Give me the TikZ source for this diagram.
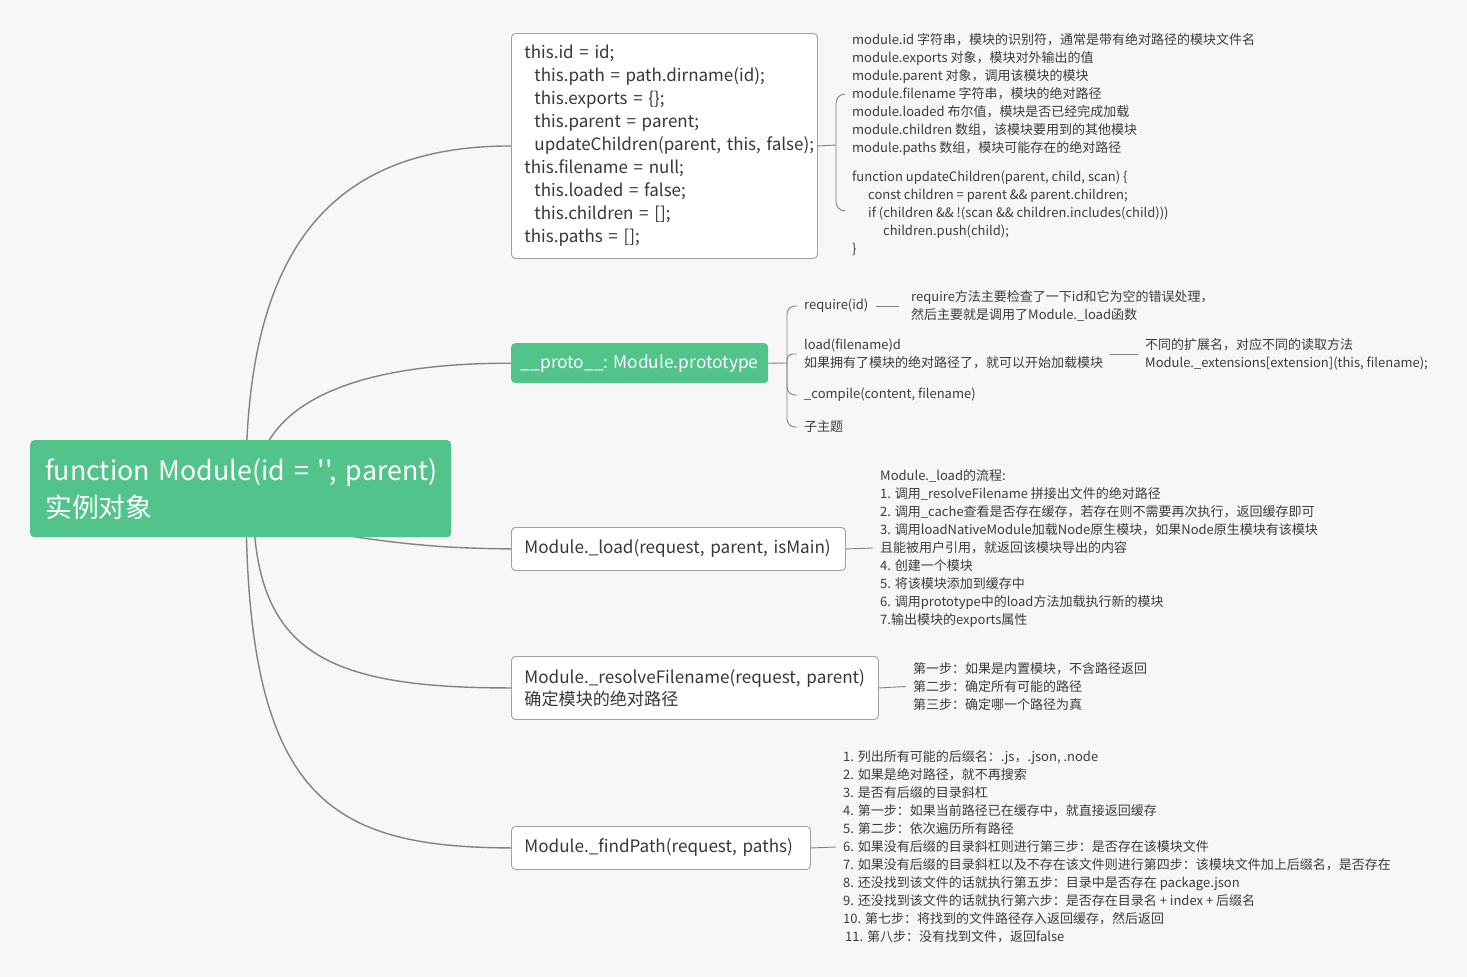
\documentclass[tikz,border=0pt]{standalone}
\usepackage{fontspec}
\setmainfont{Noto Sans CJK SC}[Ligatures=TeXOff]
\definecolor{bgc}{RGB}{247,247,247}
\definecolor{mmgreen}{RGB}{82,195,139}
\definecolor{boxline}{RGB}{160,160,160}
\definecolor{lineclr}{RGB}{130,130,130}
\definecolor{txt}{RGB}{55,55,55}
\definecolor{txtb}{RGB}{60,60,60}
\pgfdeclarelayer{bgfill}
\pgfdeclarelayer{background}
\pgfsetlayers{bgfill,background,main}
\tikzset{
  greenbox/.style={fill=mmgreen, rounded corners=4pt, text=white, anchor=north west},
  whitebox/.style={fill=white, draw=boxline, line width=0.9pt, rounded corners=4pt, text=txt,
    anchor=north west, align=left, inner xsep=13pt, inner ysep=0pt},
  detail/.style={text=txtb, font=\fontsize{13}{18}\selectfont, align=left, inner xsep=7pt,
    inner ysep=0pt, anchor=west},
  conn/.style={draw=lineclr, line width=1.4pt},
  thin/.style={draw=lineclr, line width=0.9pt},
}
\begin{document}
\begin{tikzpicture}[x=1pt,y=-1pt]
\begin{pgfonlayer}{bgfill}
\fill[bgc] (0,0) rectangle (1467,977);
\end{pgfonlayer}
\useasboundingbox (0,0) rectangle (1467,977);

% root
\node[greenbox, minimum width=421pt, minimum height=97pt, text width=391pt, align=left,
  inner xsep=15pt, inner ysep=0pt, font=\fontsize{26.8}{37}\selectfont] (root) at (30,440)
  {\mbox{function Module(id = '', parent)}\\实例对象};

% first level
\node[whitebox, minimum height=225pt, text width=280pt, font=\fontsize{17}{23}\selectfont] (nA) at (511,33)
{this.id = id;\\
\hspace*{10pt}this.path = path.dirname(id);\\
\hspace*{10pt}this.exports = \{\};\\
\hspace*{10pt}this.parent = parent;\\
\hspace*{10pt}\mbox{updateChildren(parent, this, false);}\\
this.filename = null;\\
\hspace*{10pt}this.loaded = false;\\
\hspace*{10pt}this.children = [];\\
this.paths = [];};

\node[greenbox, minimum width=257pt, minimum height=40pt, inner sep=0pt, font=\fontsize{17.3}{23}\selectfont] (nB) at (511,343)
{\_\_proto\_\_: Module.prototype};

\node[whitebox, minimum height=43pt, text width=308pt, font=\fontsize{17.1}{22}\selectfont] (nC) at (511,527)
{\mbox{Module.\_load(request, parent, isMain)}};

\node[whitebox, minimum height=63pt, text width=341pt, font=\fontsize{17.1}{22}\selectfont] (nD) at (511,656)
{\mbox{Module.\_resolveFilename(request, parent)}\\确定模块的绝对路径};

\node[whitebox, minimum height=43pt, text width=273pt, font=\fontsize{17.1}{22}\selectfont] (nE) at (511,826)
{\mbox{Module.\_findPath(request, paths)}};

% details of A
\node[detail] (tA) at (845,145)
{module.id 字符串，模块的识别符，通常是带有绝对路径的模块文件名\\
module.exports 对象，模块对外输出的值\\
module.parent 对象，调用该模块的模块\\
module.filename 字符串，模块的绝对路径\\
module.loaded 布尔值，模块是否已经完成加载\\
module.children 数组，该模块要用到的其他模块\\
module.paths 数组，模块可能存在的绝对路径\\[11pt]
function updateChildren(parent, child, scan) \{\\
\hspace*{16pt}const children = parent \&\& parent.children;\\
\hspace*{16pt}if (children \&\& !(scan \&\& children.includes(child)))\\
\hspace*{31pt}children.push(child);\\
\}};

% children of B
\node[detail] (bReq) at (797,306) {require(id)};
\node[detail] (bReqT) at (904,306) {require方法主要检查了一下id和它为空的错误处理，\\然后主要就是调用了Module.\_load函数};
\node[detail] (bLoad) at (797,354) {load(filename)d\\如果拥有了模块的绝对路径了，就可以开始加载模块};
\node[detail] (bLoadT) at (1138,354) {不同的扩展名，对应不同的读取方法\\Module.\_extensions[extension](this, filename);};
\node[detail] (bComp) at (797,395) {\_compile(content, filename)};
\node[detail] (bSub) at (797,427) {子主题};

% details of C
\node[detail] (tC) at (873,548)
{Module.\_load的流程:\\
1. 调用\_resolveFilename 拼接出文件的绝对路径\\
2. 调用\_cache查看是否存在缓存，若存在则不需要再次执行，返回缓存即可\\
3. 调用loadNativeModule加载Node原生模块，如果Node原生模块有该模块\\
且能被用户引用，就返回该模块导出的内容\\
4. 创建一个模块\\
5. 将该模块添加到缓存中\\
6. 调用prototype中的load方法加载执行新的模块\\
7.输出模块的exports属性};

% details of D
\node[detail] (tD) at (906,686.5)
{第一步：如果是内置模块，不含路径返回\\
第二步：确定所有可能的路径\\
第三步：确定哪一个路径为真};

% details of E
\node[detail] (tE) at (836,847)
{1. 列出所有可能的后缀名：.js，.json, .node\\
2. 如果是绝对路径，就不再搜索\\
3. 是否有后缀的目录斜杠\\
4. 第一步：如果当前路径已在缓存中，就直接返回缓存\\
5. 第二步：依次遍历所有路径\\
6. 如果没有后缀的目录斜杠则进行第三步：是否存在该模块文件\\
7. 如果没有后缀的目录斜杠以及不存在该文件则进行第四步：该模块文件加上后缀名，是否存在\\
8. 还没找到该文件的话就执行第五步：目录中是否存在 package.json\\
9. 还没找到该文件的话就执行第六步：是否存在目录名 + index + 后缀名\\
10. 第七步：将找到的文件路径存入返回缓存，然后返回\\
\hspace*{2pt}11. 第八步：没有找到文件，返回false};

\begin{pgfonlayer}{background}
% root connectors
\coordinate (rA) at (246,480);
\coordinate (rB) at (262,455);
\coordinate (rC) at (300,528);
\coordinate (rD) at (253,500);
\coordinate (rE) at (246,500);
\draw[conn] (rA) .. controls (246,250) and (330,146) .. (nA.west);
\draw[conn] (rB) .. controls (285,395) and (370,363) .. (nB.west);
\draw[conn] (rC) .. controls (400,545) and (440,548) .. (nC.west);
\draw[conn] (rD) .. controls (254,650) and (320,688) .. (nD.west);
\draw[conn] (rE) .. controls (246,800) and (330,847) .. (nE.west);

% A brace
\coordinate (aj) at (836,145);
\coordinate (at) at (845,94);
\coordinate (ab) at (845,211);
\draw[thin] (nA.east) -- (aj);
\draw[thin, rounded corners=9pt] (at) -| (aj) |- (ab);

% B brace
\coordinate (bj) at (787,363);
\draw[thin] (nB.east) -- (bj);
\draw[thin, rounded corners=8pt] (bj) |- (bReq.west);
\draw[thin, rounded corners=6pt] (bj) |- (bLoad.west);
\draw[thin, rounded corners=8pt] (bj) |- (bComp.west);
\draw[thin, rounded corners=8pt] (bj) |- (bSub.west);
\draw[thin, shorten >=5pt] (bReq.east) -- (bReqT.west);
\draw[thin] (bLoad.east) -- (bLoadT.west);

% C, D, E
\draw[thin] (nC.east) -- (tC.west);
\draw[thin] (nD.east) -- (tD.west);
\draw[thin] (nE.east) -- (tE.west);
\end{pgfonlayer}
\end{tikzpicture}
\end{document}
